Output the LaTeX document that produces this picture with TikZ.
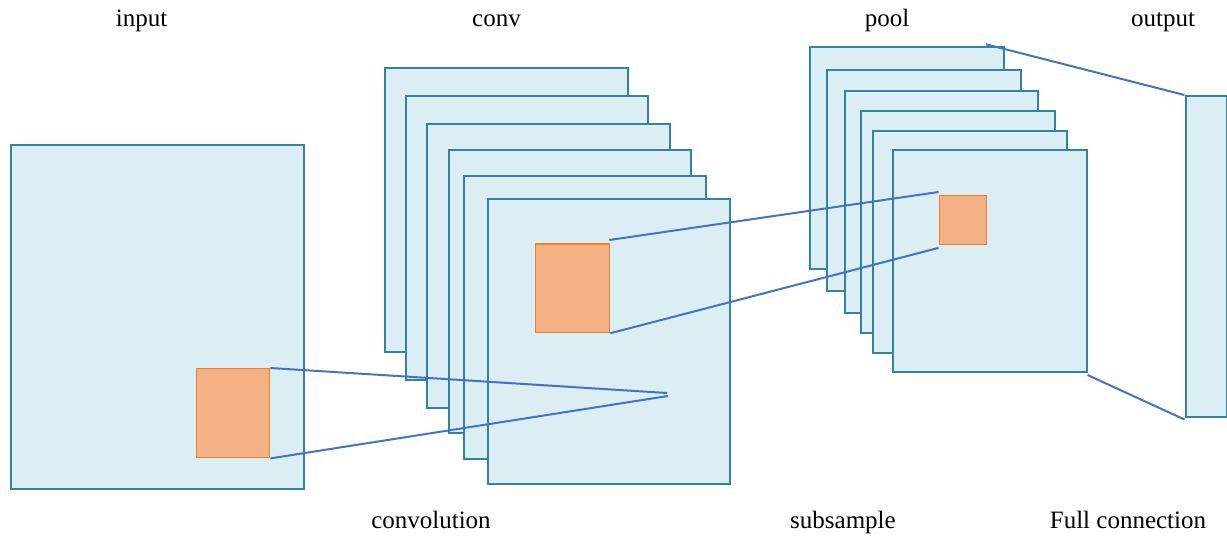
\documentclass[tikz,border=0pt]{standalone}
\usepackage{fontspec}
\setmainfont{Liberation Serif}
\definecolor{fmfill}{HTML}{DBEEF4}
\definecolor{fmdraw}{HTML}{31849B}
\definecolor{pfill}{HTML}{F4B183}
\definecolor{pdraw}{HTML}{ED7D31}
\definecolor{lnk}{HTML}{4472C4}
\begin{document}
\begin{tikzpicture}[x=1pt,y=-1pt,
  fmap/.style={draw=fmdraw,fill=fmfill,line width=2pt,inner sep=0pt,anchor=north west},
  patch/.style={draw=pdraw,fill=pfill,line width=1.4pt,inner sep=0pt,anchor=north west},
  link/.style={draw=lnk,line width=2pt},
  lbl/.style={font=\fontsize{25}{30}\selectfont,anchor=base,inner sep=0pt}]
\useasboundingbox (0,0) rectangle (1227,539);
% labels
\node[lbl] (tinput) at (141.5,26.5) {input};
\node[lbl] (tconv) at (496.5,26.5) {conv};
\node[lbl] (tpool) at (887,26.5) {pool};
\node[lbl] (toutput) at (1163,26.5) {output};
\node[lbl] (tconvo) at (431,528) {convolution};
\node[lbl] (tsub) at (843,528) {subsample};
\node[lbl] (tfull) at (1128,528) {Full connection};
% input
\node[fmap,minimum width=293pt,minimum height=344pt] (in) at (10,144) {};
\node[patch,minimum width=73pt,minimum height=89pt] (inp) at (196,368) {};
% conv stack
\node[fmap,minimum width=243pt,minimum height=284pt] (c1) at (383.5,67) {};
\node[fmap,minimum width=242pt,minimum height=284pt] (c2) at (405,94.5) {};
\node[fmap,minimum width=243pt,minimum height=284pt] (c3) at (426,122.5) {};
\node[fmap,minimum width=242.5pt,minimum height=283.5pt] (c4) at (447.5,148.5) {};
\node[fmap,minimum width=242.5pt,minimum height=283pt] (c5) at (462.5,174.5) {};
\node[fmap,minimum width=242.5pt,minimum height=284.5pt] (c6) at (486.5,198) {};
\node[patch,minimum width=74.5pt,minimum height=88.5pt] (cp) at (534.5,243.3) {};
% pool stack
\node[fmap,minimum width=194pt,minimum height=222pt] (p1) at (809,46) {};
\node[fmap,minimum width=193.5pt,minimum height=221.5pt] (p2) at (826,68.5) {};
\node[fmap,minimum width=193.5pt,minimum height=222pt] (p3) at (843.5,90.3) {};
\node[fmap,minimum width=194pt,minimum height=222pt] (p4) at (860,110) {};
\node[fmap,minimum width=194pt,minimum height=222pt] (p5) at (872,130) {};
\node[fmap,minimum width=194pt,minimum height=222pt] (p6) at (891.5,149) {};
\node[patch,minimum width=47.5pt,minimum height=48.5pt] (pp) at (938.5,195) {};
% output
\node[fmap,minimum width=41.5pt,minimum height=320.5pt] (out) at (1184.5,95) {};
% connector ends
\coordinate (f1) at (667,393);
\coordinate (f2) at (668,396);
\coordinate (cpt) at (609.3,240);
\coordinate (pt) at (986,44.3);
% connectors
\draw[link] (inp.north east) -- (f1);
\draw[link] (inp.south east) -- (f2);
\draw[link] (cpt) -- ([yshift=3pt]pp.north west);
\draw[link] (cp.south east) -- ([yshift=-3pt]pp.south west);
\draw[link] (pt) -- (out.north west);
\draw[link] ([yshift=-2pt]p6.south east) -- ([yshift=-2pt]out.south west);
\end{tikzpicture}
\end{document}
